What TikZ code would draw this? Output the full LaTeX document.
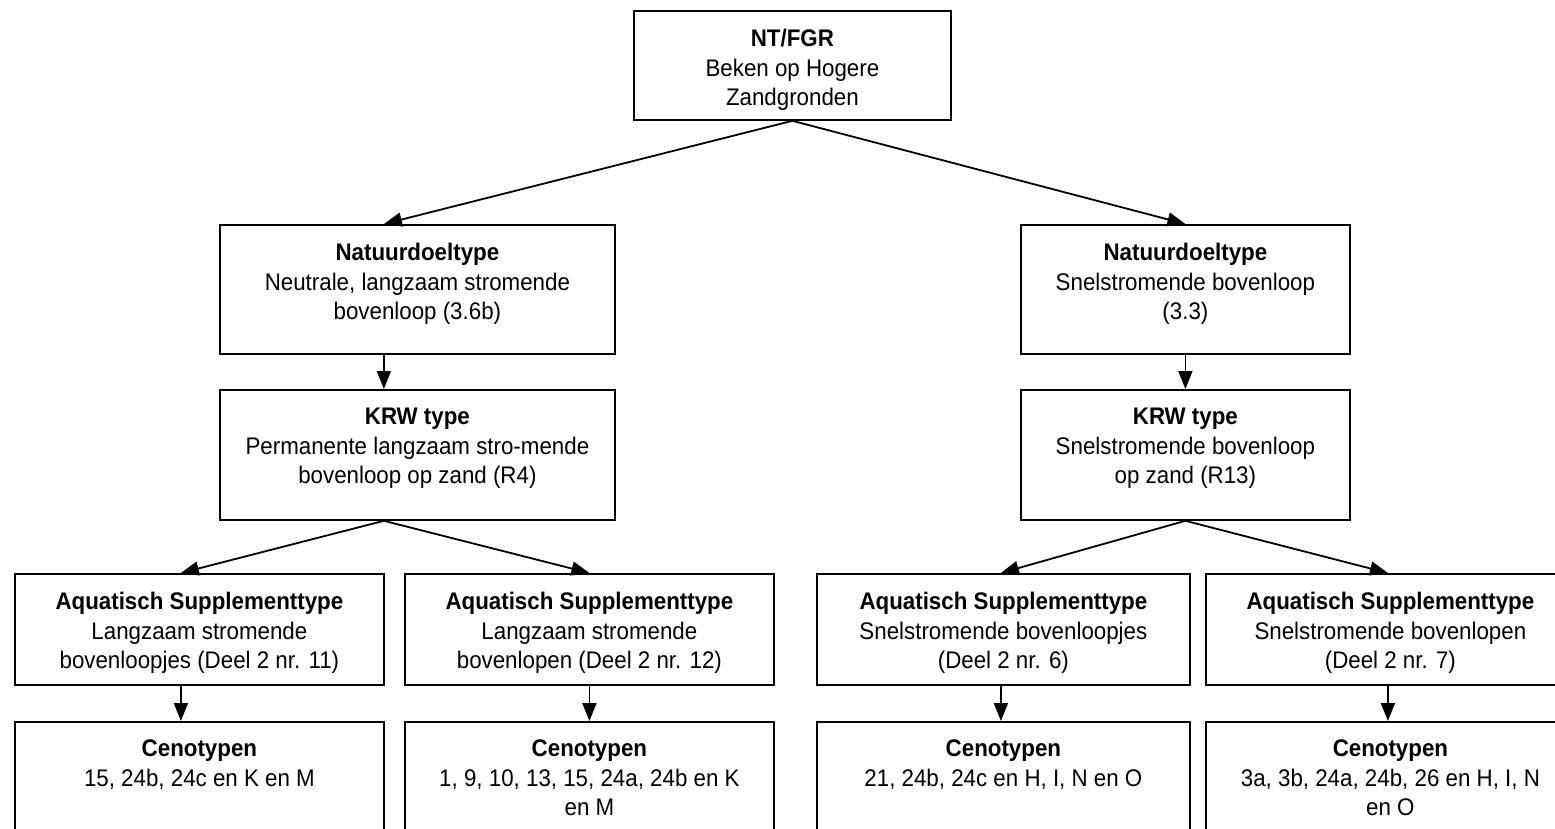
\documentclass[tikz,border=0pt]{standalone}
\usepackage{fontspec}
\setmainfont[FakeStretch=0.93]{Liberation Sans}
\usetikzlibrary{arrows.meta}

\begin{document}
\begin{tikzpicture}[x=1pt, y=-1pt, every node/.style={font=\fontsize{24}{29.5}\selectfont},
    >={Triangle[length=18pt,width=14pt]}]

    % Styles
    \tikzstyle{type_box} = [draw=black, line width=1.8pt, anchor=north west, inner sep=0pt]
    \tikzstyle{type_text} = [anchor=north, align=center, inner sep=0pt, yshift=-19pt]
    \tikzstyle{link} = [->, line width=1.8pt]

    % Frame of the page (boxes at the right and bottom run off it)
    \useasboundingbox (0,0) rectangle (1555,828);
    \clip (0,0) rectangle (1555,828);

    % Top: NT/FGR
    \node[type_box, minimum width=317pt, minimum height=109pt] (top) at (633,10) {};
    \node[type_text] at (top.north) {\textbf{NT/FGR}\\ Beken op Hogere\\ Zandgronden};

    % Natuurdoeltype boxes
    \node[type_box, minimum width=395pt, minimum height=129pt] (nat_l) at (219,224) {};
    \node[type_text] at (nat_l.north) {\textbf{Natuurdoeltype}\\ Neutrale, langzaam stromende\\ bovenloop (3.6b)};
    \node[type_box, minimum width=329pt, minimum height=129pt] (nat_r) at (1020,224) {};
    \node[type_text] at (nat_r.north) {\textbf{Natuurdoeltype}\\ Snelstromende bovenloop\\ (3.3)};

    % KRW type boxes
    \node[type_box, minimum width=395pt, minimum height=130pt] (krw_l) at (219,389) {};
    \node[type_text] at (krw_l.north) {\textbf{KRW type}\\ Permanente langzaam stro-mende\\ bovenloop op zand (R4)};
    \node[type_box, minimum width=329pt, minimum height=130pt] (krw_r) at (1020,389) {};
    \node[type_text] at (krw_r.north) {\textbf{KRW type}\\ Snelstromende bovenloop\\ op zand (R13)};

    % Aquatisch Supplementtype boxes
    \node[type_box, minimum width=369pt, minimum height=111pt] (aq_a) at (14,573) {};
    \node[type_text] at (aq_a.north) {\textbf{Aquatisch Supplementtype}\\ Langzaam stromende\\ bovenloopjes (Deel 2 nr. 11)};
    \node[type_box, minimum width=369pt, minimum height=111pt] (aq_b) at (404,573) {};
    \node[type_text] at (aq_b.north) {\textbf{Aquatisch Supplementtype}\\ Langzaam stromende\\ bovenlopen (Deel 2 nr. 12)};
    \node[type_box, minimum width=373pt, minimum height=111pt] (aq_c) at (816,573) {};
    \node[type_text] at (aq_c.north) {\textbf{Aquatisch Supplementtype}\\ Snelstromende bovenloopjes\\ (Deel 2 nr. 6)};
    \node[type_box, minimum width=369pt, minimum height=111pt] (aq_d) at (1205,573) {};
    \node[type_text] at (aq_d.north) {\textbf{Aquatisch Supplementtype}\\ Snelstromende bovenlopen\\ (Deel 2 nr. 7)};

    % Cenotypen boxes
    \node[type_box, minimum width=369pt, minimum height=130pt] (ceno_a) at (14,721) {};
    \node[type_text] at (ceno_a.north) {\textbf{Cenotypen}\\ 15, 24b, 24c en K en M};
    \node[type_box, minimum width=369pt, minimum height=130pt] (ceno_b) at (404,721) {};
    \node[type_text] at (ceno_b.north) {\textbf{Cenotypen}\\ 1, 9, 10, 13, 15, 24a, 24b en K\\ en M};
    \node[type_box, minimum width=373pt, minimum height=130pt] (ceno_c) at (816,721) {};
    \node[type_text] at (ceno_c.north) {\textbf{Cenotypen}\\ 21, 24b, 24c en H, I, N en O};
    \node[type_box, minimum width=369pt, minimum height=130pt] (ceno_d) at (1205,721) {};
    \node[type_text] at (ceno_d.north) {\textbf{Cenotypen}\\ 3a, 3b, 24a, 24b, 26 en H, I, N\\ en O};

    % Connectors
    \draw[link] (top.south) -- ([xshift=-33.5pt]nat_l.north);
    \draw[link] (top.south) -- (nat_r.north);
    \draw[link] ([xshift=-33.5pt]nat_l.south) -- ([xshift=-33.5pt]krw_l.north);
    \draw[link] (nat_r.south) -- (krw_r.north);
    \draw[link] ([xshift=-33.5pt]krw_l.south) -- ([xshift=-18.5pt]aq_a.north);
    \draw[link] ([xshift=-33.5pt]krw_l.south) -- (aq_b.north);
    \draw[link] (krw_r.south) -- ([xshift=-2.5pt]aq_c.north);
    \draw[link] (krw_r.south) -- ([xshift=-2.5pt]aq_d.north);
    \draw[link] ([xshift=-18.5pt]aq_a.south) -- ([xshift=-18.5pt]ceno_a.north);
    \draw[link] (aq_b.south) -- (ceno_b.north);
    \draw[link] ([xshift=-2.5pt]aq_c.south) -- ([xshift=-2.5pt]ceno_c.north);
    \draw[link] ([xshift=-2.5pt]aq_d.south) -- ([xshift=-2.5pt]ceno_d.north);

\end{tikzpicture}
\end{document}
